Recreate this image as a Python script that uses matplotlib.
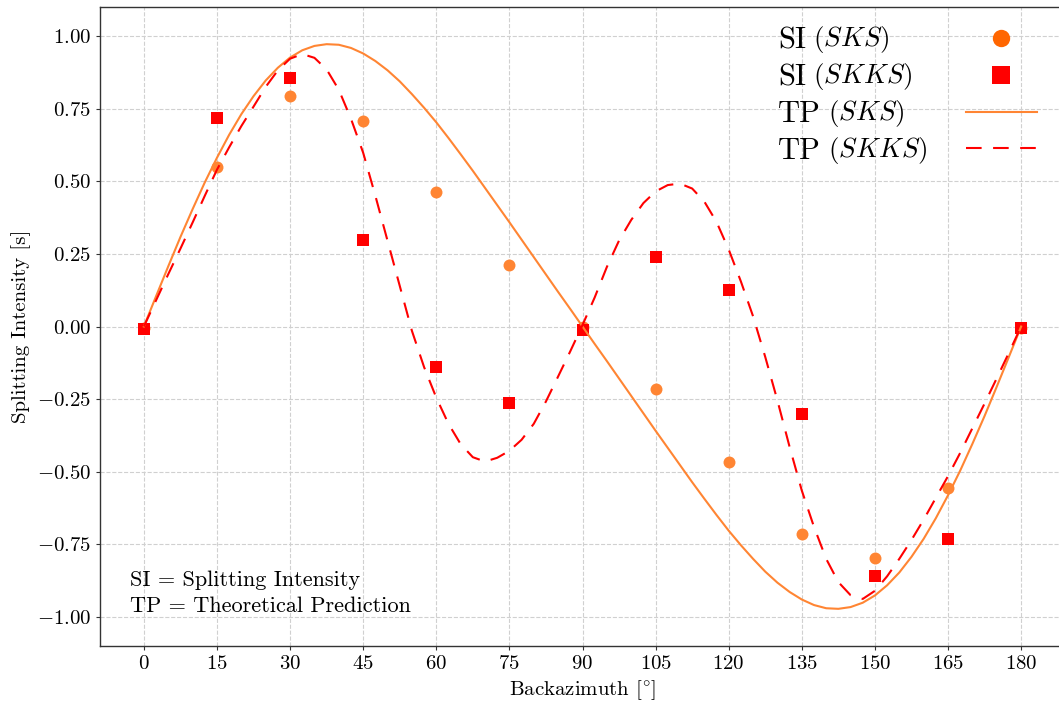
import numpy as np
import matplotlib
matplotlib.use('Agg')
import matplotlib.pyplot as plt
from matplotlib.lines import Line2D

plt.rcParams['font.family'] = 'serif'
plt.rcParams['font.serif'] = ['cmr10']
plt.rcParams['mathtext.fontset'] = 'cm'
plt.rcParams['axes.formatter.use_mathtext'] = True

# measured splitting intensities
baz = [0, 15, 30, 45, 60, 75, 90, 105, 120, 135, 150, 165, 180]
si_sks = [-0.005, 0.548, 0.794, 0.708, 0.464, 0.212, 0.0, -0.215, -0.467, -0.713, -0.796, -0.555, -0.005]
si_skks = [-0.009, 0.719, 0.854, 0.297, -0.139, -0.265, -0.011, 0.239, 0.124, -0.302, -0.860, -0.733, -0.005]

# theoretical predictions, read every 2.5 deg
baz_curve = np.arange(0, 180.1, 2.5)
tp_sks = [0.000, 0.104, 0.207, 0.308, 0.404, 0.496, 0.581, 0.660, 0.731, 0.793,
          0.847, 0.891, 0.926, 0.951, 0.966, 0.972, 0.970, 0.959, 0.940, 0.914,
          0.882, 0.844, 0.800, 0.753, 0.703, 0.649, 0.593, 0.536, 0.477, 0.418,
          0.359, 0.299, 0.239, 0.179, 0.119, 0.060, 0.000, -0.060, -0.119, -0.179,
          -0.239, -0.299, -0.359, -0.418, -0.477, -0.536, -0.593, -0.649, -0.703, -0.753,
          -0.800, -0.844, -0.882, -0.914, -0.940, -0.959, -0.970, -0.972, -0.966, -0.951,
          -0.926, -0.891, -0.847, -0.793, -0.731, -0.660, -0.581, -0.496, -0.404, -0.308,
          -0.207, -0.104, 0.000]
tp_skks = [0.000, 0.090, 0.180, 0.268, 0.358, 0.450, 0.540, 0.617, 0.690, 0.757,
           0.825, 0.882, 0.922, 0.938, 0.925, 0.885, 0.815, 0.715, 0.598, 0.450,
           0.295, 0.140, -0.015, -0.140, -0.245, -0.335, -0.405, -0.450, -0.465, -0.452,
           -0.428, -0.390, -0.335, -0.258, -0.172, -0.085, 0.005, 0.100, 0.205, 0.296,
           0.367, 0.425, 0.465, 0.487, 0.492, 0.475, 0.430, 0.360, 0.265, 0.155,
           0.035, -0.105, -0.255, -0.415, -0.565, -0.690, -0.800, -0.880, -0.925, -0.938,
           -0.910, -0.860, -0.800, -0.735, -0.665, -0.590, -0.515, -0.435, -0.350, -0.265,
           -0.178, -0.090, 0.000]

leg_names = ['SI', 'SI', 'TP', 'TP']
leg_phases = [r'$(SKS)$', r'$(SKKS)$', r'$(SKS)$', r'$(SKKS)$']

orange_pt = '#ff8533'
orange_leg = '#ff6600'
dash = (0, (7.5, 5.5))

fig = plt.figure(figsize=(10.59, 7.04), dpi=100)
ax = fig.add_axes([100 / 1059, 1 - 646 / 704, 965 / 1059, 639 / 704])

ax.plot(baz, si_sks, 'o', color=orange_pt, ms=8.6, mew=0, zorder=3)
ax.plot(baz, si_skks, 's', color='red', ms=8.6, mew=0, zorder=3)
ax.plot(baz_curve, tp_sks, '-', color=orange_pt, lw=1.5, zorder=4)
ax.plot(baz_curve, tp_skks, color='red', lw=1.5, ls=dash, zorder=4)

ax.set_xlim(-9, 189)
ax.set_ylim(-1.1, 1.1)
ax.set_xticks(np.arange(0, 181, 15))
ax.set_yticks(np.arange(-1.0, 1.01, 0.25))
ax.tick_params(labelsize=15, length=3, width=0.8, color='#333333')
ax.grid(True, ls='--', color='#d0d0d0', lw=0.8)
ax.set_axisbelow(True)
for s in ax.spines.values():
    s.set_color('#333333')
    s.set_linewidth(1.0)

ax.set_xlabel(r'Backazimuth $[^{\circ}]$', fontsize=15)
ax.set_ylabel('Splitting Intensity [s]', fontsize=15)

ax.text(30 / 965, 30 / 639, 'SI = Splitting Intensity\nTP = Theoretical Prediction',
        transform=ax.transAxes, fontsize=16, linespacing=1.4, va='bottom', ha='left')

handles = [
    Line2D([], [], marker='o', ls='none', color=orange_leg, ms=12.5, mew=0),
    Line2D([], [], marker='s', ls='none', color='red', ms=12.5, mew=0),
    Line2D([], [], color=orange_pt, lw=1.5),
    Line2D([], [], color='red', lw=1.5, ls=dash),
]
# blank labels keep the rows aligned; the label texts are placed by hand below
leg = fig.legend(handles, [' '] * 4, loc='upper right',
                 bbox_to_anchor=(1037 / 1059, 1 - 27 / 704), frameon=False,
                 fontsize=22, markerfirst=False, handlelength=2.33,
                 handletextpad=0.0, labelspacing=0.31, borderpad=0,
                 borderaxespad=0)

fig.canvas.draw()
renderer = fig.canvas.get_renderer()
W, H = fig.bbox.width, fig.bbox.height
for t, name, ph in zip(leg.get_texts(), leg_names, leg_phases):
    bb = t.get_window_extent(renderer)
    _, _, d = renderer.get_text_width_height_descent('lp', t.get_fontproperties(), ismath=False)
    base = bb.y0 + d
    big = fig.text(778 / W, base / H, name, fontsize=22, va='baseline', ha='left')
    bx = big.get_window_extent(renderer).x1
    fig.text((bx + 7) / W, (base + 2) / H, ph, fontsize=19.5, va='baseline', ha='left')

fig.savefig('out.png', dpi=100)
